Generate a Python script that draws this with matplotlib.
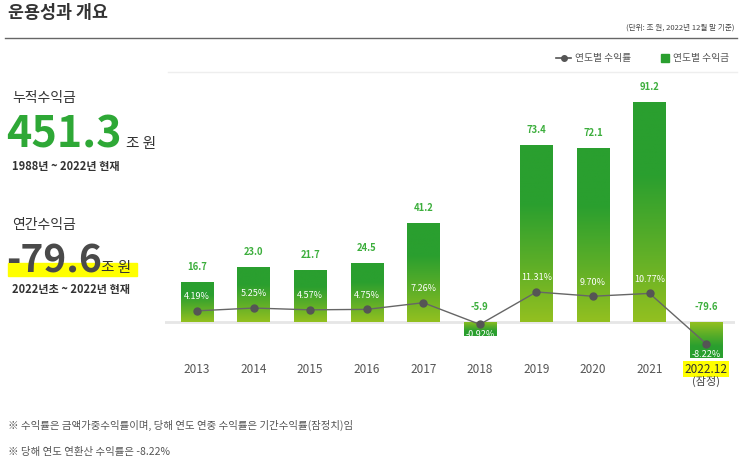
import numpy as np
import matplotlib.pyplot as plt
from matplotlib.colors import LinearSegmentedColormap
from matplotlib.lines import Line2D
from matplotlib.patches import Rectangle

plt.rcParams['font.family'] = ['Noto Sans CJK KR', 'DejaVu Sans']

# 데이터
years = ['2013', '2014', '2015', '2016', '2017', '2018', '2019', '2020', '2021', '2022.12']
profits = [16.7, 23.0, 21.7, 24.5, 41.2, -5.9, 73.4, 72.1, 91.2, -79.6]
returns = [4.19, 5.25, 4.57, 4.75, 7.26, -0.92, 11.31, 9.70, 10.77, -8.22]

GREEN = '#2a9f2f'
LIGHT = '#93c020'
GRAY = '#555555'
cmap = LinearSegmentedColormap.from_list('g', [LIGHT, '#5cae28', GREEN, GREEN], N=256)

W, H = 743, 468
fig = plt.figure(figsize=(W / 100, H / 100), dpi=100)

def fx(px):
    return px / W

def fy(py):
    return 1 - py / H

# 제목, 단위
fig.text(fx(8), fy(13), '운용성과 개요', fontsize=12.5, fontweight='bold', color='#333333', va='center')
fig.text(fx(735), fy(28), '(단위: 조 원, 2022년 12월 말 기준)', fontsize=5.5, color='#444444', ha='right', va='center')
fig.add_artist(Line2D([fx(5), fx(737)], [fy(38), fy(38)], color='#666666', lw=1.0))
fig.add_artist(Line2D([fx(168), fx(737)], [fy(72), fy(72)], color='#eeeeee', lw=1.0))

# 왼쪽 요약
fig.text(fx(12), fy(98), '누적수익금', fontsize=10, color='#333333', va='center')
fig.text(fx(6), fy(134), '451.3', fontsize=31, fontweight='bold', color='#2ea836', va='center')
fig.text(fx(126), fy(144), '조 원', fontsize=10.5, color='#333333', va='center')
fig.text(fx(12), fy(166), '1988년 ~ 2022년 현재', fontsize=8, fontweight='bold', color='#333333', va='center')

fig.text(fx(12), fy(225), '연간수익금', fontsize=10, color='#333333', va='center')
fig.add_artist(Rectangle((fx(8), fy(276)), fx(129), fy(263) - fy(276), color='#ffff00', zorder=0))
fig.text(fx(6), fy(261), '-79.6', fontsize=28, fontweight='bold', color='#4a4a4a', va='center', zorder=2)
fig.text(fx(101), fy(268), '조 원', fontsize=10.5, color='#333333', va='center', zorder=2)
fig.text(fx(12), fy(289), '2022년초 ~ 2022년 현재', fontsize=8, fontweight='bold', color='#333333', va='center')

# 범례
fig.add_artist(Line2D([fx(556), fx(571)], [fy(58), fy(58)], color=GRAY, lw=1.2))
fig.add_artist(Line2D([fx(563.5)], [fy(58)], color=GRAY, marker='o', markersize=4, lw=0))
fig.text(fx(575), fy(58), '연도별 수익률', fontsize=7, color='#555555', va='center')
fig.add_artist(Rectangle((fx(661), fy(62)), fx(8), fy(54) - fy(62), color=GREEN))
fig.text(fx(673), fy(58), '연도별 수익금', fontsize=7, color='#555555', va='center')

# 막대 차트
YMIN, YMAX = -14.9, 103.6
ax = fig.add_axes([fx(165), fy(358), fx(570), fy(72) - fy(358)])
x = np.arange(len(years))
ax.axis('off')
ax.axhline(0, color='#e6e6e6', lw=2, zorder=1)

bw = 0.57
grad = np.linspace(0, 1, 256).reshape(-1, 1)
for i, v in enumerate(profits):
    lo = max(min(0, v), YMIN)
    hi = max(0, v)
    rect = Rectangle((x[i] - bw / 2, lo), bw, hi - lo, facecolor='none', edgecolor='none')
    ax.add_patch(rect)
    img = grad if v > 0 else grad[::-1]
    im = ax.imshow(img, cmap=cmap, origin='lower', aspect='auto',
                   extent=[x[i] - bw / 2, x[i] + bw / 2, lo, hi], zorder=2)
    im.set_clip_path(rect)
    ly = v + 4 if v > 0 else 4
    ax.text(x[i], ly, f'{v:.1f}', ha='center', va='bottom', fontsize=6.8, fontweight='bold', color='#3cae3c')
    if i == len(years) - 1:
        ax.text(x[i], -19.5, years[i], ha='center', va='center', fontsize=8.5, color='#333333',
                bbox=dict(boxstyle='square,pad=0.15', fc='#ffff00', ec='none'), clip_on=False)
        ax.text(x[i], -24.5, '(잠정)', ha='center', va='center', fontsize=8, color='#444444', clip_on=False)
    else:
        ax.text(x[i], -19.5, years[i], ha='center', va='center', fontsize=8.5, color='#555555', clip_on=False)

ax.set_xlim(-0.566, 9.51)
ax.set_ylim(YMIN, YMAX)

# 수익률 선
ax2 = ax.twinx()
ax2.set_ylim(-13.6, 94.3)
ax2.axis('off')
ax2.plot(x, returns, color='#666666', lw=1, marker='o', markersize=5, markerfacecolor='#555555', markeredgecolor='#555555', zorder=5)
for i, r in enumerate(returns):
    off = 5.3 if r > 0 else -4.0
    ax2.text(x[i], r + off, f'{r:.2f}%', ha='center', va='center', fontsize=6.5, color='white', zorder=6)

# 각주
fig.text(fx(8), fy(425), '※ 수익률은 금액가중수익률이며, 당해 연도 연중 수익률은 기간수익률(잠정치)임', fontsize=7.5, color='#555555', va='center')
fig.text(fx(8), fy(452), '※ 당해 연도 연환산 수익률은 -8.22%', fontsize=7.5, color='#555555', va='center')

fig.savefig('out.png', dpi=100)
